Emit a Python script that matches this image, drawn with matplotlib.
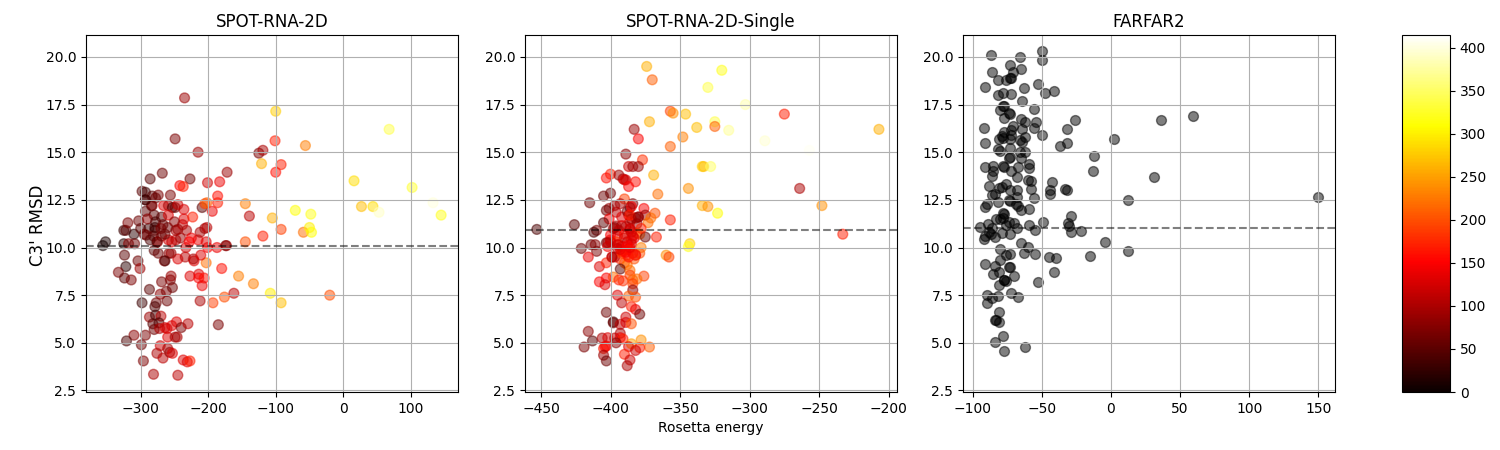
import matplotlib
matplotlib.use("Agg")
import matplotlib.pyplot as plt
from matplotlib.cm import ScalarMappable
from matplotlib.colors import Normalize

# values
spot2d_energy = [
    -352, -356, -325, -322, -310, -325, -318, -309, -319, -303,
    -300, -288, -324, -304, -322, -301, -333, -324, -314, -287,
    -298, -277, -279, -261, -271, -262, -253, -269, -256, -255,
    -227, -214, -214, -206, -209, -212, -193, -176, -162, -133,
    -155, -108, -180, -203, -221, -222, -245, -234, -211, -233,
    -201, -187, -174, -173, -145, -119, -280, -274, -258, -255,
    -265, -264, -292, -279, -281, -276, -275, -269, -259, -254,
    -248, -241, -248, -232, -225, -215, -212, -205, -202, -238,
    -236, -236, -223, -209, -205, -202, -194, -186, -145, -139,
    -105, -284, -283, -293, -266, -259, -253, -249, -245, -293,
    -280, -269, -259, -290, -278, -279, -267, -260, -245, -287,
    -278, -270, -273, -282, -280, -272, -264, -261, -254, -247,
    -240, -230, -185, -310, -293, -321, -299, -260, -249, -246,
    -271, -260, -276, -267, -257, -253, -296, -237, -231, -227,
    -281, -245, -235, -100, -249, 68, -101, -56, -215, -125,
    -119, -121, -92, -100, 16, -268, -286, -227, -172, -201,
    -183, -242, -237, 102, -298, -293, -274, -283, -278, -256,
    -293, -186, 27, 44, 53, 133, -71, -48, 145, -59,
    -50, -47, -92, -270, -264, -250, -286, -295, -228, -203,
    -20, -92,
]
spot2d_rmsd = [
    10.3, 10.1, 10.9, 10.9, 10.7, 10.2, 10.2, 10.2, 11.3, 11.4,
    11.0, 11.0, 9.6, 9.3, 9.0, 8.9, 8.7, 8.4, 8.3, 7.8,
    7.1, 7.1, 6.9, 7.2, 7.55, 7.7, 7.9, 8.2, 8.3, 8.5,
    8.5, 8.6, 8.4, 8.4, 8.0, 7.2, 7.1, 7.4, 7.6, 8.1,
    8.5, 7.6, 8.9, 9.2, 9.3, 9.4, 9.4, 9.5, 9.6, 10.0,
    10.0, 10.0, 10.1, 10.1, 10.3, 10.6, 9.85, 9.7, 9.7, 9.7,
    9.3, 9.3, 10.65, 10.9, 10.6, 10.3, 10.3, 10.6, 10.4, 10.3,
    10.4, 10.5, 10.9, 10.9, 10.5, 10.4, 10.8, 11.0, 11.05, 11.2,
    11.5, 12.0, 11.6, 12.1, 12.3, 12.35, 11.9, 12.35, 12.3, 11.65,
    11.55, 12.2, 12.2, 12.5, 12.2, 12.2, 12.1, 12.1, 12.25, 11.9,
    11.7, 11.6, 11.7, 11.5, 11.35, 11.05, 11.2, 11.05, 10.95, 6.35,
    6.45, 6.4, 6.05, 6.0, 5.7, 5.75, 5.8, 5.75, 5.9, 6.1,
    5.8, 6.0, 5.95, 5.4, 5.4, 5.1, 4.9, 5.3, 5.3, 5.3,
    4.85, 4.7, 4.45, 4.2, 4.5, 4.45, 4.05, 4.1, 4.0, 4.05,
    3.35, 3.3, 17.85, 17.15, 15.7, 16.2, 15.6, 15.35, 15.0, 14.95,
    15.1, 14.4, 14.35, 13.95, 13.5, 13.9, 13.6, 13.6, 13.95, 13.4,
    13.45, 13.25, 13.2, 13.15, 12.95, 12.9, 12.75, 12.7, 12.6, 12.75,
    12.5, 12.7, 12.15, 12.15, 11.85, 12.35, 11.95, 11.75, 11.7, 10.8,
    11.05, 10.8, 10.95, 11.0, 10.7, 11.35, 10.4, 10.7, 10.3, 10.3,
    7.5, 7.1,
]
spot2d_rank = [
    10, 5, 30, 50, 20, 15, 80, 60, 70, 60,
    50, 30, 50, 60, 20, 90, 70, 50, 70, 50,
    30, 60, 40, 60, 80, 70, 60, 70, 70, 90,
    130, 130, 150, 160, 140, 100, 190, 200, 110, 230,
    230, 300, 160, 220, 130, 100, 130, 110, 130, 120,
    150, 140, 60, 90, 200, 170, 50, 60, 80, 90,
    80, 40, 60, 40, 60, 40, 90, 60, 120, 120,
    110, 90, 100, 100, 140, 140, 100, 90, 110, 110,
    130, 130, 170, 50, 190, 210, 140, 170, 230, 110,
    260, 40, 80, 50, 130, 100, 40, 60, 120, 50,
    50, 50, 130, 80, 40, 30, 60, 60, 90, 90,
    30, 110, 40, 50, 60, 100, 130, 120, 130, 130,
    70, 110, 70, 80, 70, 40, 60, 130, 90, 100,
    120, 100, 100, 110, 90, 130, 70, 130, 130, 170,
    100, 110, 90, 280, 70, 340, 170, 230, 90, 70,
    100, 260, 170, 160, 290, 60, 50, 60, 90, 120,
    140, 150, 170, 330, 50, 30, 70, 50, 60, 70,
    30, 160, 270, 290, 390, 400, 310, 320, 320, 220,
    300, 310, 190, 70, 60, 80, 40, 60, 150, 130,
    200, 270,
]

single_energy = [
    -383, -380, -357, -348, -338, -389, -377, -387, -384, -380,
    -334, -333, -369, -400, -403, -394, -391, -390, -389, -382,
    -387, -344, -366, -400, -405, -415, -390, -334, -330, -384,
    -386, -397, -393, -401, -403, -396, -376, -368, -387, -380,
    -375, -382, -371, -373, -357, -401, -405, -386, -381, -392,
    -426, -397, -410, -412, -386, -381, -379, -400, -395, -390,
    -375, -367, -403, -414, -411, -421, -410, -416, -402, -394,
    -391, -386, -387, -378, -379, -382, -343, -344, -360, -358,
    -399, -393, -397, -408, -403, -390, -388, -393, -386, -398,
    -376, -403, -408, -404, -394, -391, -386, -384, -381, -384,
    -384, -395, -387, -382, -392, -385, -382, -379, -403, -389,
    -398, -398, -393, -389, -385, -416, -393, -413, -406, -402,
    -397, -393, -391, -396, -378, -385, -372, -387, -419, -403,
    -405, -404, -379, -382, -390, -405, -386, -403, -388, -374,
    -320, -370, -330, -303, -357, -355, -346, -275, -372, -325,
    -325, -315, -207, -289, -257, -328, -264, -323, -248, -233,
    -453, -400, -396, -392, -388, -383, -398, -394, -390, -385,
    -392, -388, -384, -395, -400, -378, -389, -385, -392, -388,
    -385, -386, -380, -386, -385, -387, -392, -384, -395, -402,
    -396, -387, -382, -399, -393, -389, -386, -385, -383, -388,
]
single_rmsd = [
    16.2, 15.7, 15.3, 15.8, 16.3, 14.9, 14.6, 14.25, 14.25, 14.25,
    14.25, 14.25, 13.8, 13.85, 13.65, 13.8, 13.6, 13.55, 13.55, 13.45,
    13.2, 13.1, 12.8, 12.85, 12.7, 12.35, 12.55, 12.2, 12.15, 12.3,
    12.1, 12.2, 12.3, 12.05, 11.95, 11.85, 12.05, 11.8, 11.7, 11.6,
    11.7, 11.55, 11.55, 11.3, 11.45, 11.5, 11.3, 11.35, 11.25, 11.15,
    11.2, 11.05, 10.9, 10.8, 10.95, 10.75, 10.7, 10.65, 10.6, 10.5,
    10.55, 10.55, 10.25, 10.15, 10.15, 9.95, 9.8, 9.5, 10.05, 10.15,
    9.8, 9.9, 9.9, 10.0, 9.7, 9.6, 10.2, 10.05, 9.6, 9.5,
    9.5, 9.4, 9.5, 9.0, 9.2, 9.2, 9.1, 8.87, 8.8, 8.45,
    8.5, 8.4, 8.2, 8.05, 8.3, 8.25, 8.55, 8.3, 8.35, 8.1,
    7.77, 7.5, 7.45, 7.4, 7.1, 6.9, 6.75, 6.5, 6.6, 6.35,
    6.1, 6.05, 5.97, 6.07, 6.0, 5.6, 5.5, 5.1, 5.25, 5.27,
    5.25, 5.27, 5.2, 5.0, 5.15, 4.95, 4.78, 4.8, 4.78, 4.83,
    4.7, 4.8, 4.75, 4.6, 4.4, 4.35, 4.1, 4.05, 3.8, 19.5,
    19.3, 18.8, 18.4, 17.5, 17.15, 17.05, 17.0, 17.0, 16.6, 16.6,
    16.35, 16.15, 16.2, 15.6, 15.1, 14.25, 13.1, 11.8, 12.2, 10.7,
    10.95, 10.4, 10.3, 9.7, 9.6, 9.4, 11.0, 10.9, 10.7, 10.4,
    10.05, 10.3, 10.6, 9.95, 10.3, 11.0, 11.1, 11.5, 11.6, 11.9,
    12.15, 11.7, 11.6, 11.0, 10.2, 9.87, 9.8, 9.7, 10.15, 10.25,
    11.13, 9.5, 9.6, 9.5, 9.9, 9.75, 10.0, 10.8, 10.5, 10.1,
]
single_rank = [
    90, 150, 210, 230, 270, 80, 180, 120, 90, 90,
    280, 270, 260, 170, 160, 90, 100, 130, 120, 160,
    150, 240, 220, 60, 60, 60, 190, 260, 240, 70,
    40, 90, 100, 90, 60, 110, 150, 200, 150, 70,
    90, 80, 220, 220, 170, 150, 50, 160, 90, 130,
    50, 60, 70, 40, 140, 200, 220, 150, 140, 90,
    60, 170, 50, 60, 80, 60, 70, 140, 150, 130,
    130, 200, 170, 230, 200, 130, 280, 320, 240, 190,
    150, 170, 110, 130, 170, 210, 220, 50, 220, 220,
    190, 150, 150, 130, 170, 180, 190, 210, 220, 190,
    80, 130, 210, 200, 110, 170, 140, 60, 60, 120,
    40, 60, 110, 130, 200, 80, 100, 50, 100, 130,
    110, 140, 170, 80, 240, 250, 210, 130, 70, 130,
    170, 150, 170, 120, 170, 90, 120, 60, 100, 260,
    320, 210, 340, 380, 190, 240, 270, 170, 260, 340,
    210, 370, 260, 395, 410, 350, 100, 310, 240, 170,
    40, 140, 180, 190, 180, 200, 90, 120, 160, 170,
    150, 120, 140, 110, 130, 170, 100, 90, 130, 70,
    150, 170, 90, 120, 130, 190, 170, 150, 120, 100,
    100, 160, 170, 100, 130, 150, 140, 120, 130, 150,
]

farfar_energy = [
    -87, -66, -50, -50, -73, -86, -71, -65, -82, -76,
    -73, -72, -53, -91, -63, -78, -82, -72, -48, -41,
    -64, -77, -78, -56, -80, -74, -73, -77, -65, -62,
    -54, -26, -92, -71, -72, -64, -56, -32, -77, -79,
    -72, -78, -62, -50, -81, -73, -66, -64, 2.4, -91,
    -32, -37, -73, -82, -80, -66, -62, -73, -74, -65,
    -12, -59, -91, -85, -78, -77, -67, -59, -85, -13,
    -72, -86, -68, -60, -58, -43, -88, -76, -79, -81,
    -58, -44, -33, -32, -86, -73, -68, -44, -84, -68,
    -56, -74, -82, -90, 12, -73, -69, -67, -91, -65,
    -59, -29, -78, -77, -80, -83, -78, -74, -70, -49,
    -76, -59, -31, -30, -95, -89, -86, -68, -55, -29,
    -22, -88, -87, -91, -92, -84, -79, -73, -65, -60,
    -4.4, -80, -63, -55, -73, -76, -45, -40, -15, 12,
    -80, -91, -84, -74, -73, -85, -81, -70, -41, -77,
    -77, -76, -81, -53, -90, -82, -86, -72, -67, -90,
    -81, -84, -81, -83, -78, -84, -62, -77, 150, 59,
    36, 31,
]
farfar_rmsd = [
    20.1, 20.0, 20.3, 19.85, 19.55, 19.2, 19.2, 19.35, 18.8, 18.8,
    18.9, 18.9, 18.6, 18.4, 18.35, 18.1, 18.0, 18.05, 18.1, 18.2,
    17.7, 17.45, 17.4, 17.25, 17.2, 17.05, 17.0, 16.8, 16.75, 16.6,
    16.6, 16.7, 16.25, 16.35, 16.15, 16.2, 16.25, 16.2, 16.05, 15.85,
    15.9, 15.75, 15.8, 15.9, 15.7, 15.7, 15.65, 15.55, 15.7, 15.5,
    15.5, 15.35, 15.2, 15.15, 15.05, 15.0, 15.0, 14.75, 14.7, 14.7,
    14.8, 14.4, 14.25, 14.3, 14.3, 14.2, 14.2, 14.15, 14.0, 14.0,
    14.0, 13.75, 13.7, 13.55, 13.5, 13.45, 13.25, 13.35, 13.2, 13.1,
    13.05, 13.0, 13.05, 13.0, 12.75, 13.0, 13.0, 12.8, 12.8, 12.65,
    12.6, 12.5, 12.4, 12.3, 12.5, 12.45, 12.3, 12.2, 12.1, 11.95,
    12.0, 11.65, 11.8, 11.75, 11.5, 11.5, 11.55, 11.35, 11.3, 11.35,
    11.2, 11.2, 11.3, 11.15, 11.1, 11.25, 11.0, 11.05, 10.9, 10.8,
    10.85, 10.8, 10.7, 10.6, 10.45, 10.55, 10.75, 10.7, 10.25, 10.05,
    10.3, 9.9, 9.7, 9.65, 9.65, 9.6, 9.5, 9.45, 9.55, 9.8,
    9.35, 9.15, 9.05, 9.0, 9.0, 8.6, 8.7, 8.5, 8.7, 8.3,
    8.3, 8.25, 8.05, 8.2, 7.5, 7.45, 7.35, 7.6, 7.4, 7.1,
    6.6, 6.2, 6.1, 6.2, 5.35, 5.05, 4.8, 4.55, 12.65, 16.9,
    16.7, 13.7,
]

titles = ["SPOT-RNA-2D", "SPOT-RNA-2D-Single", "FARFAR2"]
mean_rmsd = [10.1, 10.9, 11.05]
rank_max = 415
rank_ticks = [0, 50, 100, 150, 200, 250, 300, 350, 400]

W, H = 1500, 450
fig = plt.figure(figsize=(15, 4.5), dpi=100)

def add_axes_px(left, right, top=35, bottom=392):
    return fig.add_axes([left / W, 1 - bottom / H, (right - left) / W, (bottom - top) / H])

ax1 = add_axes_px(86, 458)
ax2 = add_axes_px(525, 897)
ax3 = add_axes_px(963, 1335)
cax = add_axes_px(1402, 1450)

norm = Normalize(0, rank_max)
ax1.scatter(spot2d_energy, spot2d_rmsd, s=50, c=spot2d_rank, cmap="hot", norm=norm, alpha=0.5)
ax2.scatter(single_energy, single_rmsd, s=50, c=single_rank, cmap="hot", norm=norm, alpha=0.5)
ax3.scatter(farfar_energy, farfar_rmsd, s=50, c="k", alpha=0.5)

for ax, title, mean in zip([ax1, ax2, ax3], titles, mean_rmsd):
    ax.axhline(mean, color="k", ls="--", alpha=0.5)
    ax.set_title(title)
    ax.grid(True)
    ax.set_ylim(2.42, 21.15)

ax1.set_xlim(-381, 170)
ax2.set_xlim(-461.5, -194)
ax3.set_xlim(-107, 162)
ax1.set_ylabel("C3' RMSD", fontsize=12)
ax1.yaxis.set_label_coords(-0.105, 0.468)
ax2.set_xlabel("Rosetta energy")

cb = fig.colorbar(ScalarMappable(norm=norm, cmap="hot"), cax=cax)
cb.set_ticks(rank_ticks)

fig.savefig("out.png", dpi=100)
